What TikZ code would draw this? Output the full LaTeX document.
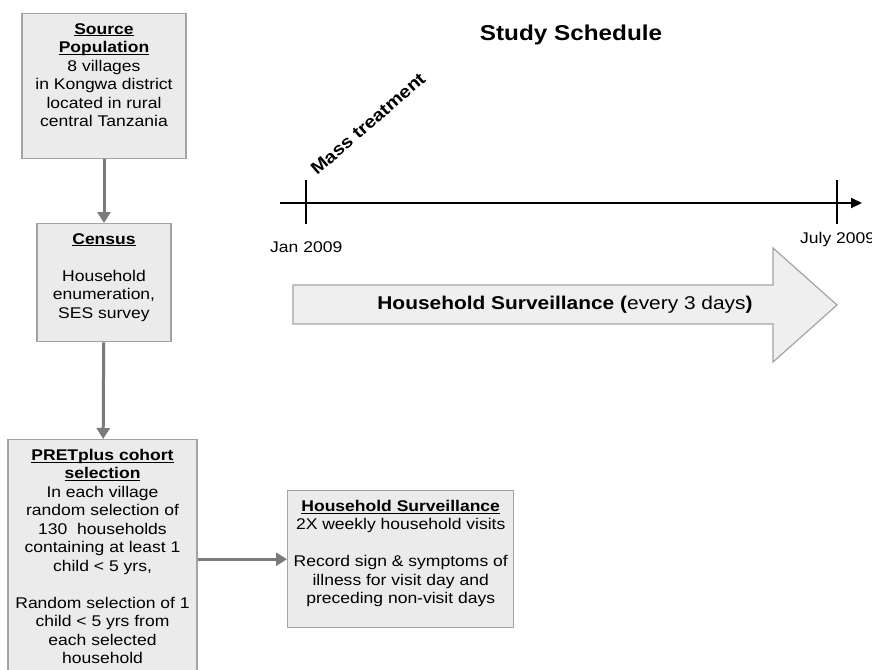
\documentclass[tikz,border=0pt]{standalone}
\usepackage{fontspec}
\setmainfont{Liberation Sans}[FakeStretch=1.13]
\usetikzlibrary{arrows.meta}
\definecolor{boxfill}{HTML}{EBEBEB}
\definecolor{boxline}{HTML}{A3A3A3}
\definecolor{flowgray}{HTML}{7A7A7A}
\newcommand{\boxtext}[3]{\parbox[t][#2][t]{#1}{\centering\fontsize{15.5}{18.5}\selectfont #3}}
\newcommand{\head}[1]{\leavevmode\setbox0\hbox{\textbf{#1}}\rlap{\rule[-2.2pt]{\wd0}{1.1pt}}\box0}

\begin{document}
\begin{tikzpicture}[x=1pt, y=-1pt,
  stagebox/.style={draw=boxline, fill=boxfill, line width=1.4pt, inner xsep=0pt, inner ysep=9.5pt, anchor=north},
  flow/.style={draw=flowgray, line width=3pt, -{Triangle[width=13pt,length=11pt]}},
  label/.style={font=\fontsize{15.5}{18}\selectfont, inner sep=0pt}]
\useasboundingbox (0,0) rectangle (872,669);

% flow chart
\node[stagebox] (src) at (104,13) {\boxtext{164pt}{126pt}{\head{Source}\\ \head{Population}\\ 8 villages\\ in Kongwa district\\ located in rural\\ central Tanzania}};
\node[stagebox] (census) at (104,223) {\boxtext{134pt}{99pt}{\head{Census}\\[\baselineskip] Household\\ enumeration,\\ SES survey}};
\node[stagebox] (pret) at (102.5,439) {\boxtext{189pt}{240pt}{\head{PRETplus cohort}\\ \head{selection}\\ In each village\\ random selection of\\ 130\ \ households\\ containing at least 1\\ child < 5 yrs,\\[\baselineskip] Random selection of 1\\ child < 5 yrs from\\ each selected\\ household}};
\node[stagebox, anchor=north west] (surv) at (287,490) {\boxtext{226pt}{118pt}{\head{Household Surveillance}\\ 2X weekly household visits\\[\baselineskip] Record sign \& symptoms of\\ illness for visit day and\\ preceding non-visit days}};

\draw[flow] (src) -- (census);
\draw[flow] (census) -- (pret);
\draw[flow] (pret.east |- surv.west) -- (surv.west);

% study schedule
\node[anchor=base, inner sep=0pt, font=\fontsize{21.5}{25}\selectfont\bfseries] (title) at (571,41) {Study Schedule};

\coordinate (tl start) at (280,203);
\coordinate (tl end) at (862,203);
\coordinate (jan) at (306,203);
\coordinate (july) at (837,203);
\draw[line width=2pt, -{Triangle[width=10pt,length=11pt]}] (tl start) -- (tl end);
\draw[line width=1.6pt] ([yshift=-21pt]jan) -- ([yshift=23pt]jan);
\draw[line width=1.6pt] ([yshift=-21pt]july) -- ([yshift=23pt]july);
\node[label, anchor=base west] (jan label) at (270,252) {Jan 2009};
\node[label, anchor=base west] (july label) at (800,243) {July 2009};
\node[anchor=base west, inner sep=0pt, rotate=41, font=\fontsize{17.5}{21}\selectfont\bfseries] (mass) at (317,176) {Mass treatment};

% surveillance period
\filldraw[fill=boxfill!80!white, draw=boxline, line width=1.2pt]
  (293,285) -- (773,285) -- (773,248) -- (837,305) -- (773,362) -- (773,324) -- (293,324) -- cycle;
\node[inner sep=0pt, font=\fontsize{18.5}{22}\selectfont] (period) at (565,305) {\textbf{Household Surveillance (}every 3 days\textbf{)}};
\end{tikzpicture}
\end{document}
